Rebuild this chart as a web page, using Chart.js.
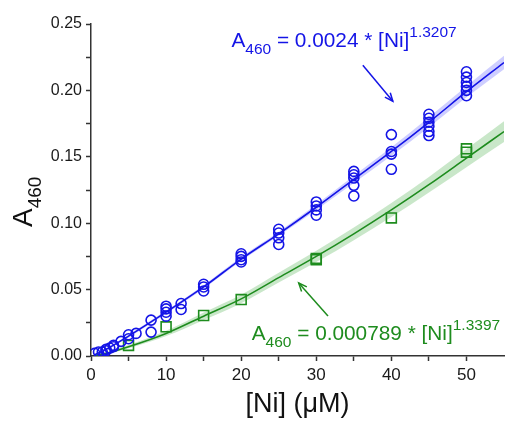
<!DOCTYPE html>
<html>
<head>
<meta charset="utf-8">
<script src="https://cdn.jsdelivr.net/npm/chart.js@4"></script>
<style>
  html, body { margin: 0; padding: 0; background: #fff; }
</style>
</head>
<body>
<canvas id="canvas" width="505" height="423"></canvas>
<script>
// blue series: circles
let blueX = [0.5, 1, 1.5, 2, 2, 2.5, 3, 3, 4, 5, 5, 6, 8, 8,
             10, 10, 10, 10, 12, 12, 15, 15, 15, 20, 20, 20, 20,
             25, 25, 25, 25, 30, 30, 30, 30, 35, 35, 35, 35, 35,
             40, 40, 40, 40, 45, 45, 45, 45, 45, 45, 50, 50, 50, 50, 50, 50];
let blueY = [0.002, 0.003, 0.003, 0.004, 0.005, 0.006, 0.007, 0.008, 0.011, 0.013, 0.016, 0.017, 0.018, 0.027,
             0.030, 0.033, 0.0355, 0.0375, 0.035, 0.0395, 0.049, 0.052, 0.054, 0.0708, 0.0725, 0.075, 0.077,
             0.084, 0.089, 0.0926, 0.0954, 0.106, 0.110, 0.113, 0.116, 0.1205, 0.1285, 0.134, 0.1365, 0.139,
             0.1406, 0.152, 0.154, 0.1667, 0.166, 0.169, 0.173, 0.176, 0.179, 0.182, 0.196, 0.200, 0.203, 0.206, 0.210, 0.214];

// green series: squares
let greenX = [5, 10, 15, 20, 30, 30, 40, 50, 50];
let greenY = [0.008, 0.022, 0.0305, 0.0425, 0.0725, 0.0735, 0.104, 0.1535, 0.156];

// fitted curves and their bands
let fitX     = [0.5, 2, 5, 10, 15, 20, 25, 30, 35, 40, 45, 50, 55];
let blueFit  = [0.001, 0.005, 0.015, 0.033, 0.052, 0.073, 0.092, 0.112, 0.133, 0.154, 0.176, 0.199, 0.221];
let blueLo   = [0.0008, 0.0045, 0.0140, 0.0318, 0.0507, 0.0715, 0.0905, 0.1100, 0.1303, 0.1508, 0.1722, 0.1948, 0.2160];
let blueHi   = [0.0012, 0.0055, 0.0160, 0.0342, 0.0533, 0.0745, 0.0935, 0.1140, 0.1357, 0.1572, 0.1798, 0.2032, 0.2260];
let greenFit = [0.0003, 0.002, 0.007, 0.017, 0.030, 0.043, 0.059, 0.075, 0.092, 0.110, 0.129, 0.149, 0.169];
let greenLo  = [0.0001, 0.0012, 0.0058, 0.0150, 0.0272, 0.0398, 0.0553, 0.0707, 0.0872, 0.1047, 0.1232, 0.1422, 0.1612];
let greenHi  = [0.0005, 0.0028, 0.0082, 0.0190, 0.0328, 0.0462, 0.0627, 0.0793, 0.0968, 0.1153, 0.1348, 0.1558, 0.1768];

const BLUE = '#1414e6';
const GREEN = '#1e8c1e';
const FONT = '"Liberation Sans", Arial, sans-serif';

function pts(xs, ys) {
  return xs.map((x, i) => ({ x: x, y: ys[i] }));
}

// draws a run of text pieces (for sub/superscripts)
function richText(ctx, x, y, parts, color) {
  ctx.fillStyle = color;
  ctx.textBaseline = 'alphabetic';
  ctx.textAlign = 'left';
  let cx = x;
  parts.forEach(p => {
    ctx.font = p.size + 'px ' + FONT;
    ctx.fillText(p.t, cx, y + p.dy);
    cx += ctx.measureText(p.t).width;
  });
}

function arrow(ctx, x1, y1, x2, y2, color) {
  ctx.strokeStyle = color;
  ctx.lineWidth = 1.5;
  ctx.beginPath();
  ctx.moveTo(x1, y1);
  ctx.lineTo(x2, y2);
  ctx.stroke();
  let a = Math.atan2(y2 - y1, x2 - x1);
  let L = 9, w = 0.4;
  ctx.beginPath();
  ctx.moveTo(x2 - L * Math.cos(a - w), y2 - L * Math.sin(a - w));
  ctx.lineTo(x2, y2);
  ctx.lineTo(x2 - L * Math.cos(a + w), y2 - L * Math.sin(a + w));
  ctx.stroke();
}

// annotations and axis titles
const labels = {
  id: 'labels',
  afterDraw(chart) {
    const ctx = chart.ctx;
    const xs = chart.scales.x, ys = chart.scales.y;
    const area = chart.chartArea;
    ctx.save();

    richText(ctx, xs.getPixelForValue(18.7), ys.getPixelForValue(0.2327), [
      { t: 'A', size: 20.8, dy: 0 },
      { t: '460', size: 15.5, dy: 7 },
      { t: ' = 0.0024 * [Ni]', size: 20.8, dy: 0 },
      { t: '1.3207', size: 15.5, dy: -10 }
    ], BLUE);
    arrow(ctx, xs.getPixelForValue(36.2), ys.getPixelForValue(0.219),
               xs.getPixelForValue(40.2), ys.getPixelForValue(0.1918), BLUE);

    richText(ctx, xs.getPixelForValue(21.4), ys.getPixelForValue(0.012), [
      { t: 'A', size: 20.8, dy: 0 },
      { t: '460', size: 15.5, dy: 7 },
      { t: ' = 0.000789 * [Ni]', size: 20.8, dy: 0 },
      { t: '1.3397', size: 15.5, dy: -10 }
    ], GREEN);
    arrow(ctx, xs.getPixelForValue(31.56), ys.getPixelForValue(0.0301),
               xs.getPixelForValue(27.66), ys.getPixelForValue(0.055), GREEN);

    // x title
    ctx.fillStyle = '#111';
    ctx.font = '27px ' + FONT;
    ctx.textAlign = 'center';
    ctx.textBaseline = 'alphabetic';
    ctx.fillText('[Ni] (\u03bcM)', (area.left + area.right) / 2, 412);

    // y title, rotated
    ctx.translate(32, 227);
    ctx.rotate(-Math.PI / 2);
    richText(ctx, 0, 0, [
      { t: 'A', size: 28, dy: 0 },
      { t: '460', size: 19, dy: 9 }
    ], '#111');
    ctx.restore();
  }
};

let options = {
  type: 'line',
  data: {
    datasets: [
      { data: pts(blueX, blueY), showLine: false, order: 0,
        pointStyle: 'circle', pointRadius: 5, borderColor: BLUE, borderWidth: 1.6,
        backgroundColor: 'rgba(0,0,0,0)' },
      { data: pts(greenX, greenY), showLine: false, order: 0,
        pointStyle: 'rect', pointRadius: 7, borderColor: GREEN, borderWidth: 1.6,
        backgroundColor: 'rgba(0,0,0,0)' },
      { data: pts(fitX, blueFit), order: 1, borderColor: BLUE, borderWidth: 1.6,
        pointRadius: 0, cubicInterpolationMode: 'monotone', fill: false },
      { data: pts(fitX, greenFit), order: 1, borderColor: GREEN, borderWidth: 1.6,
        pointRadius: 0, cubicInterpolationMode: 'monotone', fill: false },
      { data: pts(fitX, blueLo), order: 2, borderWidth: 0, borderColor: 'rgba(0,0,0,0)',
        pointRadius: 0, cubicInterpolationMode: 'monotone', fill: false },
      { data: pts(fitX, blueHi), order: 2, borderWidth: 0, borderColor: 'rgba(0,0,0,0)',
        pointRadius: 0, cubicInterpolationMode: 'monotone', fill: '-1',
        backgroundColor: 'rgba(60,60,255,0.25)' },
      { data: pts(fitX, greenLo), order: 2, borderWidth: 0, borderColor: 'rgba(0,0,0,0)',
        pointRadius: 0, cubicInterpolationMode: 'monotone', fill: false },
      { data: pts(fitX, greenHi), order: 2, borderWidth: 0, borderColor: 'rgba(0,0,0,0)',
        pointRadius: 0, cubicInterpolationMode: 'monotone', fill: '-1',
        backgroundColor: 'rgba(60,170,60,0.28)' }
    ]
  },
  options: {
    responsive: false,
    animation: false,
    layout: { autoPadding: false, padding: { top: 24, right: 1, left: 0, bottom: 0 } },
    plugins: { legend: { display: false }, tooltip: { enabled: false } },
    scales: {
      x: {
        type: 'linear', min: 0, max: 55,
        afterFit(scale) { scale.height = 67; scale.paddingLeft = 0; scale.paddingRight = 0; },
        border: { display: true, color: '#333', width: 1.5 },
        grid: { drawOnChartArea: false, drawTicks: true, tickLength: 5, tickWidth: 1.5,
                tickColor: ctx => (ctx.tick && ctx.tick.value === 55) ? 'rgba(0,0,0,0)' : '#333' },
        ticks: {
          stepSize: 5, padding: 4, color: '#1a1a1a', maxRotation: 0, autoSkip: false,
          font: { family: FONT, size: 17 },
          callback: v => (v % 10 === 0 ? String(v) : '')
        }
      },
      y: {
        min: 0, max: 0.25,
        afterFit(scale) { scale.width = 91; scale.paddingTop = 0; scale.paddingBottom = 0; },
        border: { display: true, color: '#333', width: 1.5 },
        grid: { drawOnChartArea: false, drawTicks: true, tickLength: 5, tickWidth: 1.5, tickColor: '#333' },
        ticks: {
          stepSize: 0.025, padding: 4, color: '#1a1a1a', autoSkip: false,
          font: { family: FONT, size: 16 },
          callback: v => (Math.round(v * 1000) % 50 === 0 ? v.toFixed(2) : '')
        }
      }
    }
  },
  plugins: [labels]
};

let chart = new Chart(document.getElementById('canvas'), options);
</script>
</body>
</html>
